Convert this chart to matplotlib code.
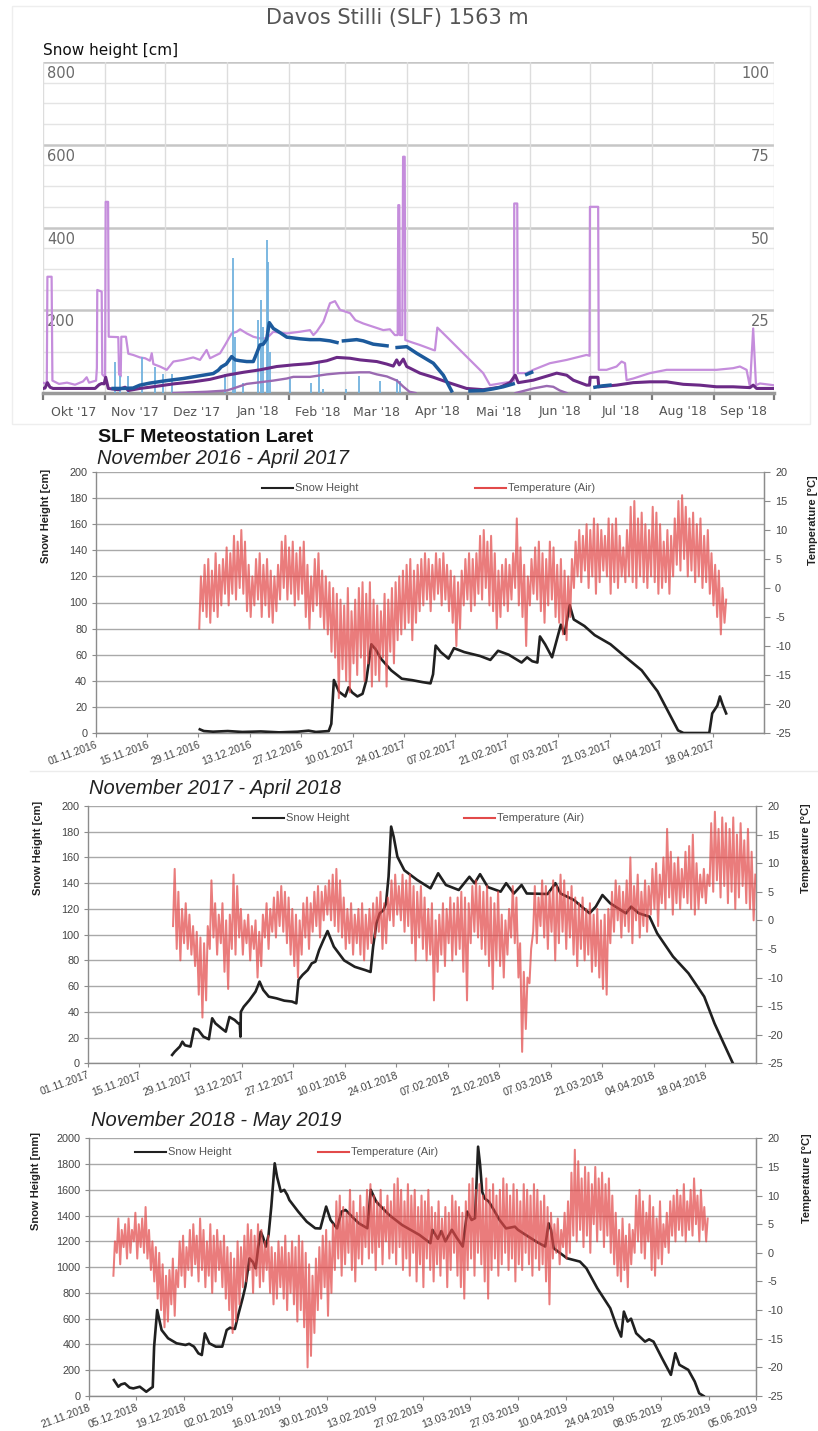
import numpy as np
import matplotlib
matplotlib.use("Agg")
import matplotlib.pyplot as plt
from matplotlib.lines import Line2D
from matplotlib.patches import Rectangle

W, H = 818, 1431
nan = float("nan")

# ---------------------------------------------------------------------------
# Davos Stilli (SLF) 1563 m, October 2017 - September 2018
# x values are days since 01.10.2017
# ---------------------------------------------------------------------------
davos_months = ["Okt '17", "Nov '17", "Dez '17", "Jan '18", "Feb '18", "Mar '18",
                "Apr '18", "Mai '18", "Jun '18", "Jul '18", "Aug '18", "Sep '18"]
davos_month_start = [0, 31, 61, 92, 123, 151, 182, 212, 243, 273, 304, 335, 365]
davos_left_ticks = [200, 400, 600, 800]
davos_right_ticks = [25, 50, 75, 100]

pink_day = [0, 1.5, 1.9, 2.2, 4.3, 4.7, 8, 12, 16, 20,
            21.8, 23, 26.5, 26.9, 27.1, 29.3, 29.6, 31.0, 31.3, 32.5,
            32.8, 37.6, 38.0, 38.8, 39.1, 41.4, 42.6, 45, 48.4, 51,
            53.4, 54.3, 55.1, 58.4, 61.8, 65.1, 70, 75, 78.4, 81.7,
            83.4, 88.4, 90.9, 94.2, 96.7, 98.4, 101.7, 105, 108.3, 111.7,
            115, 121.7, 128.3, 133.3, 135, 136.6, 140, 143.3, 145.8, 148.3,
            153.3, 156, 159.9, 164.9, 169.9, 173.2, 175.7, 177.1, 177.4, 177.9,
            178.2, 179.4, 179.8, 180.6, 180.9, 183.2, 188.2, 194.9, 195.7, 196.9,
            198.2, 203.2, 211.5, 219.8, 223.2, 228.2, 233.2, 235.1, 235.3, 236.8,
            237.1, 241.5, 244.8, 253.1, 261.5, 268.1, 271.4, 272.9, 273.1, 277.2,
            277.5, 281.4, 286.4, 288.9, 290.6, 291.4, 294.7, 303, 311.4, 319.7,
            328, 336.3, 344.6, 348, 351.3, 353, 354.6, 356, 358, 364.6]
pink_val = [25, 22, 30, 281, 281, 30, 22, 25, 20, 28,
            38, 25, 30, 60, 249, 245, 45, 38, 462, 462,
            136, 135, 45, 40, 136, 136, 95, 92, 86, 84,
            78, 96, 70, 64, 56, 76, 80, 86, 80, 104,
            84, 96, 116, 144, 148, 154, 144, 136, 132, 132,
            148, 144, 148, 152, 140, 148, 172, 217, 222, 201,
            193, 176, 168, 160, 152, 154, 140, 140, 454, 454,
            140, 140, 571, 571, 128, 124, 116, 104, 103, 158,
            152, 128, 88, 48, 19, 23, 27, 30, 458, 458,
            48, 48, 56, 72, 80, 88, 92, 90, 450, 450,
            56, 56, 64, 76, 72, 31, 35, 48, 56, 56,
            56, 56, 60, 64, 56, 15, 156, 19, 23, 19]

hs_day = [35, 40, 45, 48.4, 53.4, 61.8, 70, 75, 80, 85,
          87.5, 89, 91.5, 94.2, 96, 98.4, 101.7, 105, 106.7, 108.3,
          110, 111.7, 113, 115, 118.3, 121.7, 128.3, 133.3, 138.3, 143.3,
          146.8, 148.5, 150, 156.6, 159.9, 164.9, 171.8, 174.3, 176.8, 181.6,
          186.6, 194.9, 199.9, 204, 208.6, 213.2, 219.8, 224.8, 229.8, 234.8,
          238, 241.5, 244, 260, 275.6, 279, 283.1]
hs_val = [11, 11, 12, 19, 24, 30, 35, 39, 43, 47,
          55, 63, 70, 88, 80, 78, 76, 76, 96, 116,
          118, 130, 170, 156, 146, 135, 131, 129, 129, 126,
          122, nan, 126, 129, 126, 118, 114, nan, 110, 112,
          96, 72, 43, 5, nan, 5, 6, 10, 15, 22,
          nan, 45, 50, nan, 14, 17, 19]

purple_day = [0, 1, 2.2, 3.5, 5, 15, 26, 28, 29.3, 30.5,
              31.3, 32.6, 37.6, 41, 42.6, 48.4, 53.4, 65.1, 75, 83.4,
              91.7, 100, 108.3, 116.7, 125, 133.3, 141.7, 146.7, 153.3, 158.3,
              166.7, 171.6, 174.9, 176.6, 177.9, 179.9, 181.6, 184.9, 188.2, 194.9,
              203.2, 211.5, 219.8, 228.2, 233.2, 235.8, 237.3, 244.8, 253.1, 256.5,
              261.5, 264.8, 271.4, 272.9, 273.2, 277.1, 277.5, 286.4, 294.7, 303,
              311.4, 319.7, 328, 336.3, 344.6, 353, 354.6, 356.3, 364.6]
purple_val = [11, 12, 25, 14, 11, 11, 11, 20, 23, 22,
              38, 11, 8, 14, 6, 11, 14, 22, 27, 33,
              43, 50, 56, 64, 68, 71, 78, 86, 84, 80,
              76, 70, 65, 80, 68, 82, 64, 56, 48, 38,
              24, 11, 8, 14, 25, 43, 25, 31, 43, 48,
              43, 31, 19, 19, 38, 38, 15, 19, 25, 27,
              27, 21, 19, 15, 15, 13, 19, 11, 11]

mauve_day = [65, 81.7, 91.7, 95, 101.7, 106.7, 115, 121.7, 125, 133.3,
             141.7, 148.3, 158.3, 163, 166.7, 171.7, 176.7, 180, 183, 186,
             200, 236, 244.8, 251.5, 254.8, 258.1, 261.5]
mauve_val = [0, 3, 6, 11, 22, 25, 30, 35, 39, 39,
             45, 48, 50, 50, 45, 40, 30, 15, 3, 0,
             nan, 0, 11, 17, 15, 6, 0]

newsnow_day = [35.9, 38.4, 42.6, 49.3, 55.9, 60.1, 64.2, 90.9, 94.7, 95.9,
               99.7, 107.5, 108.7, 110, 111.7, 112.5, 113.3, 123.3, 133.6, 138,
               140, 151.3, 157.9, 168.3, 176.6, 178.2]
newsnow_val = [75, 40, 41, 88, 63, 47, 47, 47, 326, 136,
               25, 176, 225, 160, 370, 317, 100, 35, 25, 75,
               10, 10, 42, 30, 33, 28]

# ---------------------------------------------------------------------------
# SLF Meteostation Laret, three winters
# ---------------------------------------------------------------------------
# winter 2016/17, x = days since 01.11.2016
w17_ticks = ["01.11.2016", "15.11.2016", "29.11.2016", "13.12.2016", "27.12.2016",
             "10.01.2017", "24.01.2017", "07.02.2017", "21.02.2017", "07.03.2017",
             "21.03.2017", "04.04.2017", "18.04.2017"]
w17_snow_day = [28.4, 29.5, 32, 36, 40, 45, 50, 55, 58, 60,
                63.5, 64.2, 64.9, 66.3, 68, 68.9, 69.9, 71.3, 72.7, 73.7,
                75.1, 76.3, 77.7, 80.5, 83.4, 86.2, 89, 91.2, 91.9, 92.6,
                94, 96.1, 97.6, 100.4, 104.7, 107.5, 109.6, 112.5, 116, 117.5,
                118.9, 120.3, 121, 122.4, 124.3, 126.7, 127.7, 129.1, 130.2, 133.1,
                135.9, 140.2, 144.4, 148.7, 153, 155.8, 158.6, 160.1, 167.1, 167.9,
                169.3, 170, 170.7, 171.7]
w17_snow_cm = [2.8, 1.5, 1, 1.5, 0.8, 1.2, 0.5, 1, 1.8, 0.8,
               1.5, 7, 40.6, 31.6, 28, 35, 31, 28, 30, 40,
               68, 64, 57, 48, 41.6, 40.5, 39, 38, 45, 67,
               62, 57, 65, 62, 59, 56, 63, 60, 54, 58,
               55, 54, 74, 68, 58, 83, 76, 98, 87, 82,
               75, 68, 58, 48, 32, 17, 2, 0, 0, 15,
               21, 28, 22, 15]
w17_temp_first_day = 28
w17_temp_max = [2, 4, 5, 3, 6, 4, 5, 7, 6, 9,
                8, 10, 8, 4, 2, 5, 6, 4, 5, 3,
                2, 4, 8, 9, 7, 8, 6, 7, 8, 4,
                2, 5, 6, 3, 2, 1, 0, -1, -2, -3,
                0, -4, -2, 0, 1, -1, 1, -2, -3, -4,
                -1, -2, 0, 1, 2, 3, 4, 5, 3, 4,
                5, 6, 5, 4, 6, 5, 6, 4, 3, 2,
                1, 3, 5, 6, 5, 6, 9, 10, 8, 9,
                6, 3, 4, 5, 4, 6, 12, 7, 4, 2,
                5, 7, 8, 6, 5, 8, 7, 4, 5, 3,
                2, 5, 8, 10, 9, 11, 10, 12, 11, 10,
                9, 12, 11, 12, 9, 7, 10, 14, 15, 12,
                13, 11, 10, 14, 13, 11, 8, 10, 9, 12,
                15, 16, 14, 12, 13, 11, 12, 9, 10, 6,
                4, 3, 0, -2]
w17_temp_min = [-7, -4, -5, -6, -4, -5, -3, -1, -3, -1,
                -2, 0, -1, -4, -5, -3, -2, -5, -3, -5,
                -6, -4, -2, 0, -2, -1, -3, -2, -1, -5,
                -7, -4, -3, -5, -7, -8, -11, -12, -19, -14,
                -16, -18, -13, -15, -12, -16, -13, -17, -15, -16,
                -12, -17, -11, -13, -9, -8, -7, -6, -9, -6,
                -4, -3, -2, -4, -2, -1, -3, -2, -4, -6,
                -10, -7, -3, -2, -4, -3, -1, -2, 0, -3,
                -4, -7, -5, -3, -4, -2, 0, -3, -5, -10,
                -3, -1, -2, -4, -6, -3, -2, -5, -6, -8,
                -9, -5, 0, 2, 1, 3, 0, 2, -1, 1,
                3, 2, -1, 1, 0, 2, 1, 2, 1, 0,
                2, 1, 0, 2, 1, -1, 0, 1, -1, 2,
                4, 3, 5, 2, 3, 1, 2, 0, 1, -1,
                -3, -5, -8, -6]

# winter 2017/18, x = days since 01.11.2017
w18_ticks = ["01.11.2017", "15.11.2017", "29.11.2017", "13.12.2017", "27.12.2017",
             "10.01.2018", "24.01.2018", "07.02.2018", "21.02.2018", "07.03.2018",
             "21.03.2018", "04.04.2018", "18.04.2018"]
w18_snow_day = [23, 23.7, 25.1, 25.8, 26.5, 28, 29, 30.1, 31.5, 33,
                33.9, 34.8, 36.5, 37.6, 38.6, 40, 41, 41.4, 41.6, 41.7,
                42.5, 44, 45.7, 46.8, 47.8, 49.3, 51.4, 53.5, 55.6, 56.8,
                57.4, 58.5, 59.9, 61, 62, 63, 64.2, 65.3, 67, 69.8,
                72.7, 75.5, 77, 77.7, 78.6, 79.5, 80.5, 81.2, 81.9, 82.6,
                83.3, 84.3, 86.2, 89.7, 93.3, 95.4, 97.5, 101, 103.9, 105.3,
                106.8, 108.9, 112.4, 113.9, 116, 118.1, 119.5, 125.2, 127.3, 128.7,
                132.3, 136.6, 138.3, 140.1, 142.2, 146.5, 147.9, 150, 152.9, 155,
                159.3, 163.5, 167.8, 170.6, 173.5, 175.6]
w18_snow_cm = [6.5, 9, 13, 16.8, 14, 13, 27, 26, 20.7, 18.7,
               35, 31, 27, 24.6, 36, 33.7, 31, 31, 20.7, 40,
               44, 49, 55.7, 63.5, 57, 51.8, 50.5, 48.7, 48, 46.6,
               64.8, 68.7, 72.5, 77.7, 79, 88, 95.9, 102.8, 90.7, 80,
               75, 72.5, 71, 90.7, 108.8, 116.6, 119, 124, 145, 184,
               176, 160.6, 150, 142.5, 136, 147.7, 138.6, 134.7, 145, 140,
               147, 137, 133.4, 140, 132, 138.6, 132, 131.6, 140, 132,
               127, 116.6, 121.8, 130.8, 124.4, 116.6, 121.8, 116.6, 114, 101,
               83, 70, 51.8, 31, 13, 0]
w18_temp_first_day = 23
w18_temp_max = [9, 5, 2, 3, 1, -1, -2, -3, -4, -1,
                7, 3, 1, 3, 0, 1, 8, 6, 2, 0,
                1, -1, 0, -2, 1, 3, 2, 4, 5, 6,
                5, 4, 2, 1, 0, 3, 4, 3, 5, 6,
                5, 6, 7, 8, 9, 7, 4, 2, 3, 1,
                2, 3, 1, 2, 3, 4, 5, 3, 4, 7,
                8, 6, 8, 7, 8, 6, 5, 6, 4, 2,
                3, 0, 1, 3, 2, 4, 3, 4, 5, 4,
                3, 6, 7, 6, 5, 6, 4, 3, 5, 1,
                0, 2, 6, 4, -4, -9, -10, -5, 6, 4,
                7, 6, 5, 7, 6, 8, 7, 5, 6, 4,
                3, 4, 2, 3, 1, 2, 0, 1, 2, 5,
                7, 6, 5, 7, 11, 6, 8, 5, 7, 6,
                9, 10, 8, 11, 16, 12, 10, 11, 9, 12,
                13, 15, 10, 8, 9, 8, 17, 19, 16, 18,
                17, 16, 18, 15, 17, 14, 16, 12, 8]
w18_temp_min = [-1, -5, -7, -4, -5, -6, -8, -13, -17, -14,
                -5, -3, -6, -4, -9, -12, -5, -6, -3, -6,
                -4, -7, -5, -10, -8, -3, -5, -2, -3, -1,
                -2, -4, -6, -8, -10, -6, -3, -5, -2, -1,
                -3, 0, 1, 0, -1, -2, -3, -5, -4, -6,
                -4, -6, -7, -5, -4, -3, -2, -5, -4, 0,
                -1, 1, 0, -2, -1, -4, -7, -3, -5, -7,
                -6, -14, -9, -6, -8, -4, -7, -6, -5, -9,
                -14, -4, -2, -3, -5, -6, -8, -12, -7, -8,
                -10, -6, -3, -4, -10, -23, -19, -11, -2, -4,
                -1, -3, -5, -2, -7, -4, -2, -5, -3, -6,
                -8, -5, -7, -6, -9, -8, -10, -12, -13, -4,
                -2, 0, -3, -1, -2, -4, 0, -3, -1, -2,
                1, 2, -1, 3, 2, 4, 1, 3, 2, 4,
                3, 2, 1, 2, 4, 3, 6, 5, 7, 4,
                6, 3, 5, 2, 4, 6, 3, 2, 0]

# winter 2018/19, x = days since 21.11.2018
w19_ticks = ["21.11.2018", "05.12.2018", "19.12.2018", "02.01.2019", "16.01.2019",
             "30.01.2019", "13.02.2019", "27.02.2019", "13.03.2019", "27.03.2019",
             "10.04.2019", "24.04.2019", "08.05.2019", "22.05.2019", "05.06.2019"]
w19_snow_day = [7.4, 8.7, 9.5, 10.6, 12, 13.1, 15, 16.9, 18.2, 18.8,
                19.2, 20.1, 21.4, 23.3, 25.8, 28.4, 29.5, 30.9, 32.2, 33.2,
                34.1, 35.4, 37.3, 39.2, 40.5, 41.5, 42.9, 44, 45.2, 46,
                47.2, 48.2, 49, 49.8, 50.5, 51.2, 52, 52.8, 53.6, 54.6,
                55.3, 56.4, 57.4, 58.3, 58.9, 61.5, 64, 66.5, 68, 69.7,
                71, 72.9, 74.2, 75.4, 77, 79.3, 81.8, 82.8, 84.4, 88.2,
                92, 97.1, 100.3, 100.9, 102.5, 103.5, 104.7, 106.6, 108, 109.8,
                111.1, 112.4, 113.4, 114.3, 114.9, 115.5, 116.2, 117.5, 119, 120.6,
                122.5, 125.1, 126, 127.6, 131.4, 134, 135, 135.7, 136.5, 140.4,
                144.2, 146.1, 149.3, 153.1, 155, 156.3, 157.1, 158.2, 159.2, 160.7,
                163.3, 164.5, 165.8, 168.3, 170.9, 172.2, 173.4, 176, 177.9, 179.2,
                180.5]
w19_snow_mm = [124, 72, 90, 98, 65, 59, 72, 33, 59, 70,
               382, 667, 512, 448, 409, 396, 405, 383, 331, 318,
               486, 409, 383, 383, 512, 530, 520, 640, 760, 850,
               1068, 1040, 991, 1159, 1275, 1230, 1159, 1250, 1469, 1806,
               1700, 1586, 1600, 1560, 1521, 1431, 1353, 1302, 1300, 1470,
               1366, 1301, 1431, 1444, 1400, 1340, 1302, 1600, 1508, 1405,
               1327, 1250, 1186, 1290, 1220, 1280, 1200, 1290, 1230, 1160,
               1431, 1366, 1380, 1935, 1793, 1586, 1534, 1508, 1440, 1366,
               1301, 1314, 1290, 1262, 1198, 1160, 1340, 1290, 1147, 1069,
               1043, 991, 836, 681, 539, 461, 655, 578, 600, 487,
               422, 440, 422, 293, 164, 332, 242, 203, 112, 21,
               0]
w19_temp_first_day = 7
w19_temp_max = [2, 6, 4, 5, 6, 4, 7, 5, 6, 8,
                4, 2, 1, 0, -2, -4, -3, -1, -3, 2,
                3, 1, 4, 5, 3, 6, 4, 2, 5, 3,
                4, 2, 3, 1, 0, -1, 2, 1, 3, 5,
                4, 3, 5, 4, 2, 3, 1, 0, 2, 1,
                3, 0, 2, 1, 3, 2, 0, -2, -4, -1,
                1, 3, 4, 2, 5, 9, 10, 8, 7, 11,
                9, 7, 10, 8, 11, 12, 10, 9, 11, 8,
                10, 9, 12, 13, 11, 9, 12, 10, 11, 8,
                10, 9, 11, 8, 7, 9, 6, 8, 7, 10,
                9, 8, 7, 9, 12, 13, 11, 12, 10, 13,
                11, 12, 10, 11, 13, 12, 10, 12, 11, 9,
                12, 11, 10, 12, 11, 9, 10, 8, 7, 5,
                6, 4, 7, 9, 14, 18, 16, 13, 15, 14,
                12, 15, 13, 14, 12, 13, 10, 7, 4, 6,
                3, 5, 4, 10, 11, 9, 7, 10, 8, 6,
                9, 5, 7, 9, 10, 11, 10, 12, 9, 11,
                13, 10, 11, 8, 6]
w19_temp_min = [-4, 0, -2, 1, -1, 0, 2, -1, 1, 0,
                -1, -3, -5, -8, -10, -13, -12, -9, -11, -6,
                -4, -6, -3, -4, -2, -5, -3, -6, -4, -7,
                -5, -3, -6, -8, -10, -14, -12, -9, -6, -5,
                -3, -7, -4, -6, -5, -3, -7, -9, -8, -6,
                -8, -10, -7, -9, -12, -10, -13, -20, -18, -14,
                -10, -8, -6, -11, -7, -3, -1, -4, -2, 0,
                -3, -5, -1, -2, 1, -1, 0, -3, 1, -2,
                2, -1, 0, -2, 1, -3, -1, -4, 0, -5,
                -2, -6, -1, -3, -5, -2, -4, -1, -6, -3,
                0, -4, -6, -8, -3, -1, -4, 0, -2, -5,
                -8, -3, -1, -4, -2, 0, -3, -1, -5, -2,
                -3, 0, -2, -4, -1, -3, -2, -5, -9, -1,
                0, -2, 1, -1, 0, 3, 2, 4, 1, 3,
                0, 5, 2, 4, 1, 3, 0, -2, -4, -5,
                -3, -6, -2, 0, 2, 0, -1, 2, -3, -4,
                -1, -2, 1, 0, 3, 2, 4, 3, 2, 4,
                3, 5, 2, 4, 2]

# ---------------------------------------------------------------------------
fig = plt.figure(figsize=(W / 100, H / 100), dpi=100)
fig.patch.set_facecolor("white")


def box(x0, y0, x1, y1):
    """Axes rectangle from pixel edges (origin top-left)."""
    return [x0 / W, 1 - y1 / H, (x1 - x0) / W, (y1 - y0) / H]


def fx(x):
    return x / W


def fy(y):
    return 1 - y / H


# ------------------------- Davos Stilli panel ------------------------------
fig.add_artist(Rectangle((fx(12), fy(424)), fx(798), (424 - 6) / H,
                         transform=fig.transFigure, fill=False,
                         edgecolor="#eeeeee", lw=1))
fig.text(fx(397), fy(18), "Davos Stilli (SLF) 1563 m", ha="center", va="center",
         fontsize=15, color="#555555", family="DejaVu Sans")
fig.text(fx(43), fy(50), "Snow height [cm]", ha="left", va="center",
         fontsize=11, color="#111111", family="DejaVu Sans")

ax1 = fig.add_axes(box(43, 62, 774, 393))
ax1.set_xlim(0, 365)
ax1.set_ylim(0, 800)
for v in range(50, 800, 50):
    if v % 200:
        ax1.axhline(v, color="#e4e4e4", lw=1, zorder=0)
for v in davos_left_ticks:
    ax1.axhline(v, color="#c6c6c6", lw=1.8, zorder=0)
for d in davos_month_start:
    ax1.axvline(d, color="#dddddd", lw=1, zorder=0)
for s in ("top", "right", "left"):
    ax1.spines[s].set_visible(False)
ax1.spines["bottom"].set_color("#9a9a9a")
ax1.spines["bottom"].set_linewidth(2.5)
mids = [(a + b) / 2 for a, b in zip(davos_month_start[:-1], davos_month_start[1:])]
ax1.set_xticks(mids)
ax1.set_xticklabels(davos_months, fontsize=9, color="#555555", family="DejaVu Sans")
ax1.set_xticks(davos_month_start, minor=True)
ax1.tick_params(axis="x", which="major", length=0, pad=9)
ax1.tick_params(axis="x", which="minor", length=5, width=1.6, color="#7a7a7a")
ax1.set_yticks([])

for v in davos_left_ticks:
    ax1.annotate(str(v), xy=(0, v), xycoords=("axes fraction", "data"),
                 xytext=(3, -3), textcoords="offset points", ha="left", va="top",
                 fontsize=10.5, color="#6a6a6a", family="DejaVu Sans", zorder=1)
for v, r in zip(davos_left_ticks, davos_right_ticks):
    ax1.annotate(str(r), xy=(1, v), xycoords=("axes fraction", "data"),
                 xytext=(-3, -3), textcoords="offset points", ha="right", va="top",
                 fontsize=10.5, color="#6a6a6a", family="DejaVu Sans", zorder=1)

ax1.plot(pink_day, pink_val, color="#c58ddc", lw=1.6, zorder=2)
ax1.vlines(newsnow_day, 0, newsnow_val, color="#72b2de", lw=1.3, zorder=3)
ax1.plot(mauve_day, mauve_val, color="#9a6ab2", lw=1.7, zorder=3)
ax1.plot(purple_day, purple_val, color="#6b2a86", lw=2.2, zorder=4)
ax1.plot(hs_day, hs_val, color="#1c5a9c", lw=2.5, zorder=5)


# ------------------------- Laret panels ------------------------------------
FONT = "Liberation Sans"
GRID = "#a9a9a9"
AXC = "#8c8c8c"
TEMP_C = "#e24a4a"


def laret_panel(px, xmax, tick_labels, snow_day, snow_val, ymax,
                t_first, t_max, t_min, ylab, ylab_xy, tlab_xy, legend_px):
    ax = fig.add_axes(box(*px))
    ax.set_xlim(0, xmax)
    ax.set_ylim(0, ymax)
    ax.set_yticks(np.linspace(0, ymax, 11))
    ax.set_yticklabels([str(int(v)) for v in np.linspace(0, ymax, 11)],
                       fontsize=7.8, color="#444444", family=FONT)
    ax.yaxis.grid(True, color=GRID, lw=1.0)
    ax.set_axisbelow(True)
    ax.set_xticks(np.arange(len(tick_labels)) * 14)
    ax.set_xticklabels(tick_labels, rotation=20, ha="right", va="top",
                       rotation_mode="anchor", fontsize=7.6, color="#444444",
                       family=FONT)
    ax.tick_params(axis="x", length=3, color=AXC, pad=2)
    ax.tick_params(axis="y", length=3, color=AXC, pad=3)
    ax.spines["top"].set_visible(False)
    for s in ("left", "right", "bottom"):
        ax.spines[s].set_color(AXC)
        ax.spines[s].set_linewidth(1.0)
    ax.plot(snow_day, snow_val, color="#202020", lw=1.9, zorder=3)

    ax2 = ax.twinx()
    ax2.set_ylim(-25, 20)
    ax2.set_yticks(range(-25, 21, 5))
    ax2.set_yticklabels([str(v) for v in range(-25, 21, 5)], fontsize=7.8,
                        color="#444444", family=FONT)
    ax2.tick_params(axis="y", length=4, color=AXC, pad=4)
    for s in ("top", "left", "bottom"):
        ax2.spines[s].set_visible(False)
    ax2.spines["right"].set_color(AXC)
    days = t_first + np.arange(len(t_max))
    t = np.column_stack([days + 0.25, days + 0.7]).ravel()
    v = np.column_stack([t_min, t_max]).ravel()
    ax2.plot(t, v, color=TEMP_C, lw=1.45, alpha=0.72, zorder=4)

    fig.text(fx(ylab_xy[0]), fy(ylab_xy[1]), ylab, rotation=90, ha="center",
             va="center", fontsize=8, weight="bold", color="#222222", family=FONT)
    fig.text(fx(tlab_xy[0]), fy(tlab_xy[1]), "Temperature [°C]", rotation=90,
             ha="center", va="center", fontsize=8, weight="bold", color="#222222",
             family=FONT)

    (s0, t0, ly) = legend_px
    for (a, c, lab) in ((s0, "#202020", "Snow Height"),
                        (t0, TEMP_C, "Temperature (Air)")):
        fig.add_artist(Line2D([fx(a), fx(a + 31)], [fy(ly), fy(ly)], color=c,
                              lw=1.5, transform=fig.transFigure))
        fig.text(fx(a + 33), fy(ly), lab, ha="left", va="center", fontsize=8,
                 color="#555555", family=FONT)
    return ax


# winter 2016/17
fig.text(fx(98), fy(438), "SLF Meteostation Laret", ha="left", va="center",
         fontsize=14, weight="bold", color="#111111", family=FONT)
fig.text(fx(97), fy(458), "November 2016 - April 2017", ha="left", va="center",
         fontsize=14.5, style="italic", color="#222222", family=FONT)
laret_panel((95.5, 472, 764, 733), 182, w17_ticks, w17_snow_day, w17_snow_cm, 200,
            w17_temp_first_day, w17_temp_max, w17_temp_min, "Snow Height [cm]",
            (46, 516), (813, 520), (262, 475, 488))

fig.add_artist(Line2D([fx(30), fx(818)], [fy(771), fy(771)], color="#ececec",
                      lw=1, transform=fig.transFigure))

# winter 2017/18
fig.text(fx(89), fy(788), "November 2017 - April 2018", ha="left", va="center",
         fontsize=14.5, style="italic", color="#222222", family=FONT)
laret_panel((87.6, 806, 756.4, 1063.3), 182, w18_ticks, w18_snow_day, w18_snow_cm,
            200, w18_temp_first_day, w18_temp_max, w18_temp_min, "Snow Height [cm]",
            (38, 848), (806, 848), (253, 464, 818))

# winter 2018/19
fig.text(fx(91), fy(1121), "November 2018 - May 2019", ha="left", va="center",
         fontsize=14.5, style="italic", color="#222222", family=FONT)
laret_panel((88.7, 1138.3, 756.4, 1396), 196, w19_ticks, w19_snow_day, w19_snow_mm,
            2000, w19_temp_first_day, w19_temp_max, w19_temp_min, "Snow Height [mm]",
            (36, 1181), (807, 1178), (135, 318, 1152))

fig.savefig("out.png", dpi=100, facecolor="white")
